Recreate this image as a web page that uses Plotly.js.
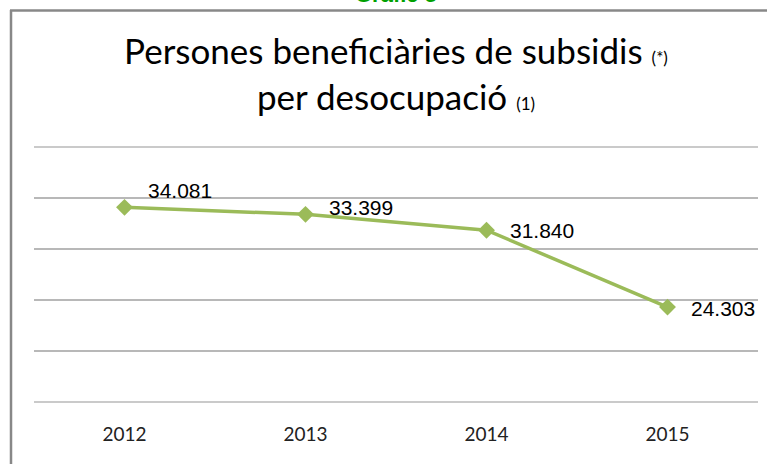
<!DOCTYPE html>
<html>
<head>
<meta charset="utf-8">
<script src="https://cdn.plot.ly/plotly-3.0.1.min.js"></script>
<style>html,body{margin:0;padding:0;background:#fff;}#chart{width:767px;height:464px;}</style>
</head>
<body>
<div id="chart"></div>
<script>
const years = ['2012', '2013', '2014', '2015'];
const beneficiaries = [34081, 33399, 31840, 24303];
const chartTitle = 'Persones beneficiàries de subsidis';
const titleNote1 = '(*)';
const titleLine2 = 'per desocupació';
const titleNote2 = '(1)';
const headerText = 'Gràfic 5';

// per-point label nudges (pixels)
const labelDy = [17, 7, 0, -1];

const green = '#9bbb59';

const trace = {
  x: years,
  y: beneficiaries,
  type: 'scatter',
  mode: 'lines+markers',
  line: {color: green, width: 3.5},
  marker: {symbol: 'diamond', size: 13, color: green},
  hoverinfo: 'skip'
};

const fmt = v => String(v).replace(/\B(?=(\d{3})+(?!\d))/g, '.');

const annotations = years.map((yr, i) => ({
  x: i, y: beneficiaries[i], xref: 'x', yref: 'y',
  text: fmt(beneficiaries[i]),
  showarrow: false, xanchor: 'left', yanchor: 'middle',
  xshift: 21, yshift: labelDy[i],
  font: {family: 'Liberation Sans, Arial, sans-serif', size: 21, color: '#000'}
}));

annotations.push({
  x: 0.5, y: (402 + 5.5) / 255, xref: 'paper', yref: 'paper',
  text: '<b>' + headerText + '</b>',
  showarrow: false, xanchor: 'center', yanchor: 'middle',
  font: {family: 'Liberation Sans, Arial, sans-serif', size: 22, color: '#00a000'}
});

const layout = {
  width: 767, height: 464,
  margin: {l: 34, r: 9, t: 147, b: 62},
  paper_bgcolor: '#fff', plot_bgcolor: '#fff',
  showlegend: false,
  title: {
    text: chartTitle + ' <span style="font-size:17px">' + titleNote1 + '</span><br>' +
          titleLine2 + ' <span style="font-size:17px">' + titleNote2 + '</span>',
    x: 0.5, xref: 'paper', xanchor: 'center',
    y: 1 - 64 / 464, yref: 'container', yanchor: 'top',
    font: {family: 'Lato, sans-serif', size: 35, color: '#000'}
  },
  xaxis: {
    type: 'category',
    range: [-0.5, 3.5],
    showgrid: false, zeroline: false, showline: false,
    ticks: '',
    ticklabelstandoff: 19,
    tickfont: {family: 'Lato, sans-serif', size: 19, color: '#222'},
    fixedrange: true
  },
  yaxis: {
    range: [15000, 40000],
    dtick: 5000, tick0: 0,
    showticklabels: false,
    showgrid: true, gridcolor: '#b8b8b8', gridwidth: 1.5,
    zeroline: false, showline: false, ticks: '',
    fixedrange: true
  },
  annotations: annotations,
  shapes: [
    {type: 'line', xref: 'paper', yref: 'paper', x0: 0, x1: 1, y0: 0, y1: 0,
     line: {color: '#b8b8b8', width: 1.5}},
    {type: 'line', xref: 'paper', yref: 'paper', x0: 0, x1: 1, y0: 1, y1: 1,
     line: {color: '#b8b8b8', width: 1.5}},
    {type: 'line', xref: 'paper', yref: 'paper',
     x0: (11 - 34) / 724, x1: (11 - 34) / 724, y0: (402 - 10) / 255, y1: (402 - 470) / 255,
     line: {color: '#888888', width: 2.5}},
    {type: 'line', xref: 'paper', yref: 'paper',
     x0: (10 - 34) / 724, x1: (770 - 34) / 724, y0: (402 - 10.5) / 255, y1: (402 - 10.5) / 255,
     line: {color: '#888888', width: 2.5}}
  ]
};

Plotly.newPlot('chart', [trace], layout, {staticPlot: true, displayModeBar: false});
</script>
</body>
</html>
